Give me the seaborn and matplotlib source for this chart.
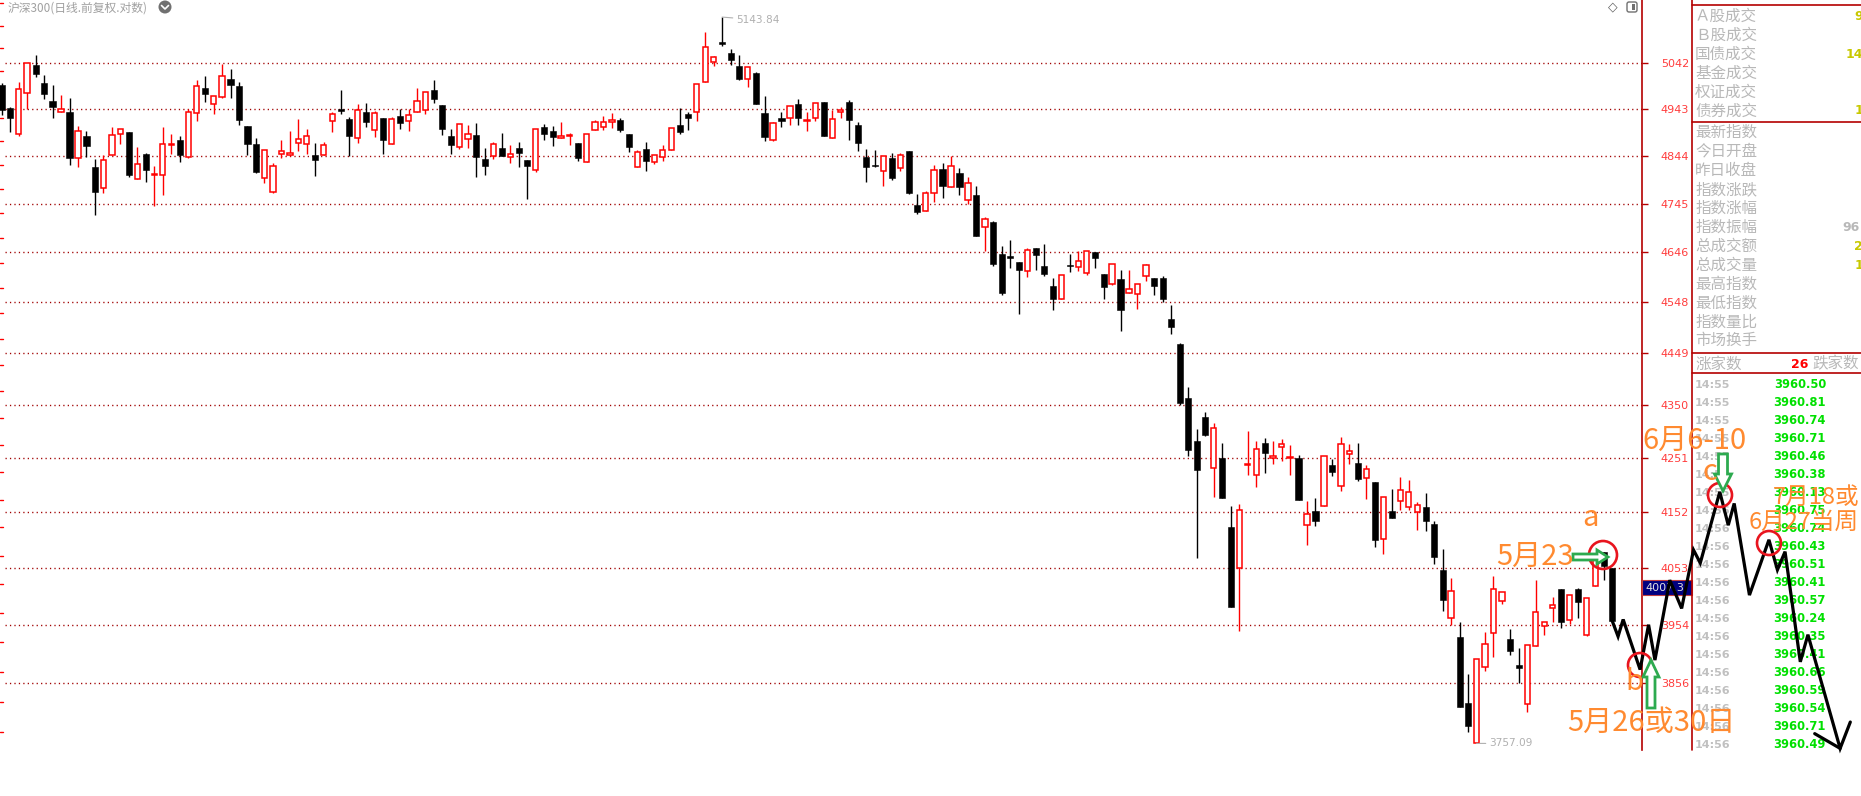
import numpy as np
import pandas as pd
import matplotlib
matplotlib.use("Agg")
import matplotlib.pyplot as plt
from matplotlib.patches import Circle, FancyArrow, Rectangle, FancyBboxPatch
from matplotlib.ticker import NullLocator
import seaborn as sns

# 沪深300 daily candles
opens = [4994, 4945, 4891, 4978, 5038, 5000, 4960, 4938, 4937, 4840,
         4887, 4820, 4777, 4845, 4891, 4894, 4796, 4849, 4804, 4804,
         4868, 4877, 4842, 4934, 4988, 4953, 4970, 5009, 4992, 4907,
         4869, 4798, 4770, 4848, 4846, 4872, 4870, 4847, 4845, 4917,
         4943, 4922, 4881, 4937, 4898, 4924, 4870, 4928, 4917, 4936,
         4942, 4985, 4952, 4886, 4862, 4879, 4888, 4837, 4843, 4860,
         4842, 4860, 4835, 4815, 4904, 4896, 4882, 4885, 4872, 4832,
         4898, 4906, 4915, 4920, 4890, 4821, 4858, 4832, 4841, 4857,
         4910, 4932, 4936, 5002, 5045, 5089, 5065, 5036, 5008, 5020,
         4935, 4878, 4924, 4924, 4954, 4917, 4924, 4958, 4881, 4937,
         4958, 4910, 4842, 4826, 4812, 4840, 4819, 4855, 4743, 4729,
         4766, 4817, 4779, 4808, 4753, 4762, 4697, 4707, 4642, 4638,
         4627, 4608, 4655, 4619, 4580, 4554, 4621, 4616, 4604, 4646,
         4603, 4583, 4593, 4566, 4564, 4599, 4595, 4595, 4515, 4465,
         4362, 4283, 4327, 4233, 4250, 4126, 4053, 4238, 4219, 4279,
         4251, 4271, 4251, 4250, 4129, 4155, 4163, 4237, 4200, 4259,
         4241, 4214, 4206, 4104, 4154, 4172, 4162, 4152, 4162, 4131,
         4050, 3967, 3934, 3824, 3758, 3883, 3941, 3996, 3930, 3886,
         3822, 3918, 3952, 3983, 4017, 3963, 4016, 3938, 4022, 4081,
         4053]
highs = [5000, 4948, 5002, 5042, 5060, 5017, 4996, 4973, 4968, 4908,
         4896, 4837, 4845, 4906, 4900, 4894, 4862, 4851, 4822, 4906,
         4891, 4887, 4944, 5005, 5015, 4972, 5041, 5030, 5002, 4907,
         4882, 4857, 4830, 4877, 4896, 4922, 4901, 4871, 4874, 4936,
         4985, 4927, 4954, 4956, 4939, 4924, 4927, 4944, 4944, 4989,
         4980, 5005, 4952, 4901, 4911, 4909, 4913, 4860, 4874, 4892,
         4867, 4873, 4835, 4900, 4911, 4908, 4915, 4893, 4872, 4891,
         4920, 4928, 4935, 4924, 4890, 4857, 4873, 4845, 4867, 4902,
         4945, 4937, 4997, 5111, 5058, 5143.84, 5074, 5060, 5034, 5023,
         4972, 4916, 4937, 4949, 4965, 4937, 4956, 4958, 4941, 4948,
         4962, 4915, 4859, 4857, 4844, 4850, 4850, 4855, 4764, 4772,
         4825, 4830, 4844, 4819, 4800, 4781, 4717, 4709, 4659, 4672,
         4627, 4655, 4655, 4662, 4595, 4601, 4642, 4648, 4649, 4646,
         4603, 4622, 4611, 4611, 4583, 4623, 4595, 4599, 4541, 4467,
         4383, 4304, 4336, 4315, 4279, 4164, 4167, 4301, 4282, 4288,
         4282, 4286, 4274, 4257, 4173, 4177, 4255, 4248, 4290, 4277,
         4279, 4237, 4206, 4180, 4195, 4216, 4211, 4171, 4187, 4137,
         4087, 4036, 3959, 3872, 3896, 3942, 4040, 4012, 3948, 3916,
         3921, 4033, 3960, 4003, 4017, 4006, 4018, 4001, 4071, 4081,
         4053]
lows = [4930, 4895, 4886, 4944, 5012, 4964, 4925, 4936, 4825, 4821,
        4842, 4721, 4766, 4845, 4870, 4800, 4796, 4789, 4740, 4763,
        4848, 4831, 4840, 4918, 4959, 4933, 4966, 4967, 4910, 4845,
        4808, 4787, 4766, 4840, 4843, 4854, 4848, 4802, 4845, 4895,
        4932, 4844, 4872, 4906, 4884, 4848, 4870, 4901, 4897, 4936,
        4933, 4956, 4889, 4848, 4859, 4860, 4800, 4805, 4838, 4844,
        4829, 4821, 4754, 4810, 4878, 4865, 4881, 4867, 4833, 4832,
        4898, 4899, 4903, 4895, 4853, 4821, 4812, 4827, 4833, 4857,
        4891, 4899, 4918, 5002, 5037, 5079, 5039, 5005, 4990, 4955,
        4875, 4875, 4904, 4909, 4909, 4896, 4917, 4885, 4881, 4925,
        4877, 4854, 4789, 4820, 4782, 4793, 4812, 4765, 4724, 4729,
        4748, 4757, 4779, 4763, 4744, 4680, 4649, 4618, 4561, 4615,
        4524, 4596, 4610, 4598, 4532, 4554, 4607, 4608, 4600, 4614,
        4553, 4581, 4491, 4566, 4534, 4588, 4561, 4548, 4484, 4350,
        4254, 4071, 4291, 4180, 4177, 3985, 3944, 4219, 4197, 4224,
        4239, 4245, 4219, 4175, 4093, 4127, 4163, 4217, 4191, 4240,
        4208, 4176, 4091, 4077, 4141, 4157, 4156, 4121, 4118, 4061,
        3979, 3954, 3816, 3775, 3757.09, 3876, 3900, 3991, 3903, 3856,
        3809, 3918, 3938, 3959, 3949, 3957, 3966, 3935, 4021, 4033,
        3962]
closes = [4942, 4925, 4987, 5042, 5018, 4976, 4948, 4943, 4840, 4896,
          4865, 4770, 4836, 4889, 4900, 4804, 4828, 4814, 4806, 4870,
          4870, 4846, 4936, 4993, 4976, 4972, 5015, 4995, 4920, 4869,
          4810, 4857, 4824, 4855, 4851, 4879, 4885, 4836, 4868, 4932,
          4939, 4886, 4942, 4916, 4934, 4878, 4923, 4914, 4930, 4961,
          4980, 4965, 4901, 4867, 4911, 4891, 4842, 4823, 4870, 4844,
          4849, 4850, 4823, 4900, 4891, 4884, 4885, 4888, 4840, 4891,
          4915, 4915, 4920, 4899, 4863, 4853, 4833, 4845, 4857, 4902,
          4895, 4925, 4997, 5078, 5055, 5084, 5050, 5007, 5033, 4955,
          4883, 4914, 4917, 4949, 4924, 4920, 4956, 4885, 4921, 4942,
          4919, 4871, 4821, 4824, 4844, 4799, 4846, 4767, 4728, 4766,
          4815, 4782, 4823, 4780, 4787, 4680, 4713, 4622, 4565, 4635,
          4610, 4651, 4641, 4602, 4553, 4601, 4619, 4628, 4649, 4635,
          4577, 4622, 4532, 4573, 4583, 4620, 4580, 4554, 4499, 4353,
          4266, 4228, 4294, 4306, 4177, 3985, 4156, 4239, 4267, 4260,
          4255, 4277, 4253, 4175, 4149, 4136, 4255, 4225, 4277, 4264,
          4212, 4231, 4102, 4180, 4141, 4192, 4188, 4166, 4136, 4072,
          3997, 4013, 3816, 3786, 3896, 3922, 4017, 4012, 3910, 3881,
          3921, 3977, 3960, 3989, 3959, 4006, 3994, 4001, 4071, 4056,
          3962]

price_ticks = [5042, 4943, 4844, 4745, 4646, 4548, 4449, 4350, 4251, 4152, 4053, 3954, 3856]
high_mark = 5143.84
low_mark = 3757.09
last_price = 4007.3

# hand-drawn forecast path after the last bar (bar position, price)
path_x = [190.0, 190.7, 191.3, 193.3, 194.3, 195.05, 196.8, 198.2, 199.6, 200.4, 202.7,
          203.7, 204.4, 206.2, 208.5, 209.5, 210.4, 212.2, 213.1, 216.9, 218.1]
path_y = [3962, 3935, 3964, 3879, 3955, 3895, 4032, 3983, 4085, 4062, 4189,
          4129, 4168, 4006, 4103, 4050, 4082, 3892, 3938, 3749, 3792]
head_x = [213.9, 216.9]
head_y = [3773, 3749]

# side panel
panel_top = ["Ａ股成交", "Ｂ股成交", "国债成交", "基金成交", "权证成交", "债券成交"]
panel_top_vals = ["9", "", "14", "", "", "1"]
panel_mid = ["最新指数", "今日开盘", "昨日收盘", "指数涨跌", "指数涨幅", "指数振幅",
             "总成交额", "总成交量", "最高指数", "最低指数", "指数量比", "市场换手"]
panel_mid_vals = ["", "", "", "", "", "96", "2", "1", "", "", "", ""]
up_count = 26
tick_times = ["14:55"] * 7 + ["14:56"] * 14
tick_prices = ["3960.50", "3960.81", "3960.74", "3960.71", "3960.46", "3960.38", "3960.13",
               "3960.75", "3960.74", "3960.43", "3960.51", "3960.41", "3960.57", "3960.24",
               "3960.35", "3960.41", "3960.66", "3960.59", "3960.54", "3960.71", "3960.49"]

sns.set_theme(style="white")
plt.rcParams["font.family"] = ["Noto Sans CJK SC", "DejaVu Sans"]

RED = "#ff0000"
AXRED = "#b40000"
GRID = "#a00000"
ORANGE = "#ff8a30"
GREY = "#b8b8b8"

df = pd.DataFrame({"open": opens, "high": highs, "low": lows, "close": closes})
df["pos"] = np.arange(len(df))
df["up"] = df["close"] >= df["open"]
df["top"] = df[["open", "close"]].max(axis=1)
df["bot"] = df[["open", "close"]].min(axis=1)
df["hgt"] = (df["top"] - df["bot"]).clip(lower=1.0)

W, H = 1861, 796
fig = plt.figure(figsize=(W / 100, H / 100), dpi=100, facecolor="white")
ax = fig.add_axes([0, (H - 750) / H, 1642 / W, 750 / H])
ax.set_yscale("log")
ax.set_xlim(-0.2, 1642 / 8.476 - 0.2)
ax.set_ylim(3746.4, 5182)
ax.set_facecolor("white")

# dotted price grid
ax.hlines(price_ticks, 0.003, 1, transform=ax.get_yaxis_transform(),
          colors=GRID, lw=1.0, linestyles=(0, (0.9, 2.3)), zorder=1)

# left edge small ticks
for p in np.arange(3775, 5176, 50):
    ax.plot([0, 0.002], [p, p], transform=ax.get_yaxis_transform(), color=RED, lw=1.0, clip_on=False)

# candles
up = df[df["up"]]
dn = df[~df["up"]]
ax.vlines(up["pos"], up["low"], up["high"], color=RED, lw=1.0, zorder=2)
ax.vlines(dn["pos"], dn["low"], dn["high"], color="black", lw=1.0, zorder=2)
ax.bar(up["pos"], up["hgt"], bottom=up["bot"], width=0.62, facecolor="white",
       edgecolor=RED, lw=1.1, zorder=3)
ax.bar(dn["pos"], dn["hgt"], bottom=dn["bot"], width=0.72, facecolor="black",
       edgecolor="black", lw=0.4, zorder=3)

# high / low labels
ax.annotate(f"{high_mark:.2f}", xy=(df["high"].idxmax(), high_mark), xytext=(10, -2),
            textcoords="offset points", ha="left", va="center", color="#b0b0b0",
            fontsize=7.6, family="DejaVu Sans",
            arrowprops=dict(arrowstyle="-", color="#b0b0b0", lw=0.8, shrinkA=0, shrinkB=0))
ax.annotate(f"{low_mark:.2f}", xy=(df["low"].idxmin(), low_mark), xytext=(9, 0),
            textcoords="offset points", ha="left", va="center", color="#b0b0b0",
            fontsize=7.6, family="DejaVu Sans",
            arrowprops=dict(arrowstyle="-", color="#b0b0b0", lw=0.8, shrinkA=0, shrinkB=0))

# right price axis
sns.despine(ax=ax, left=True, bottom=True, top=True, right=False)
ax.spines["right"].set_color(AXRED)
ax.spines["right"].set_linewidth(1.2)
ax.yaxis.tick_right()
ax.set_yticks(price_ticks)
ax.set_yticklabels([str(p) for p in price_ticks], family="DejaVu Sans")
ax.yaxis.set_minor_locator(NullLocator())
ax.tick_params(axis="y", which="major", direction="out", length=4.5, width=1.0,
               color=AXRED, labelcolor="#ff3c3c", labelsize=8, pad=9)
ax.set_xticks([])

# overlay in pixel space: header, side panel, hand-drawn marks
ov = fig.add_axes([0, 0, 1, 1], zorder=5)
ov.set_xlim(0, W)
ov.set_ylim(H, 0)
ov.axis("off")
ov.patch.set_alpha(0)

ov.text(8, 8, "沪深300(日线.前复权.对数)", fontsize=8.5, color="#a0a0a0", va="center", ha="left")
ov.add_patch(Circle((165, 7), 6.5, fc="#707070", ec="none"))
ov.plot([161.5, 165, 168.5], [5.5, 9, 5.5], color="white", lw=1.2)
ov.text(1613, 7, "◇", fontsize=9, color="#606060", ha="center", va="center", family="DejaVu Sans")
ov.add_patch(FancyBboxPatch((1627, 2), 10, 10, boxstyle="round,pad=0,rounding_size=2",
                            fc="white", ec="#707070", lw=1.0))
ov.add_patch(Rectangle((1632, 4), 3, 6, fc="#707070", ec="none"))

# panel frame
ov.plot([1692, 1692], [0, 750], color=AXRED, lw=1.2)
for yy in [5.3, 122.3, 353.3, 372.7]:
    ov.plot([1692, W], [yy, yy], color=AXRED, lw=1.2)

for k, (lab, val) in enumerate(zip(panel_top, panel_top_vals)):
    y = 16 + 19 * k
    ov.text(1695, y, lab, fontsize=11.2, color=GREY, va="center", ha="left")
    ov.text(1863, y, val, fontsize=9, color="#c8c800", va="center", ha="right",
            family="DejaVu Sans", weight="bold")
for k, (lab, val) in enumerate(zip(panel_mid, panel_mid_vals)):
    y = 132.5 + 18.94 * k
    ov.text(1695, y, lab, fontsize=11.2, color=GREY, va="center", ha="left")
    ov.text(1860 if val == "96" else 1863, y, val, fontsize=9,
            color=GREY if val == "96" else "#c8c800", va="center", ha="right",
            family="DejaVu Sans", weight="bold")

ov.text(1695, 364, "涨家数", fontsize=11.2, color=GREY, va="center", ha="left")
ov.text(1808, 364, str(up_count), fontsize=9, color="#ff0000", va="center", ha="right",
        family="DejaVu Sans", weight="bold")
ov.text(1812, 364, "跌家数", fontsize=11.2, color=GREY, va="center", ha="left")
for k, (t, p) in enumerate(zip(tick_times, tick_prices)):
    y = 384.7 + 18 * k
    ov.text(1695, y, t, fontsize=8, color="#c0c0c0", va="center", ha="left",
            family="DejaVu Sans", weight="bold")
    ov.text(1826, y, p, fontsize=8.3, color="#00e000", va="center", ha="right",
            family="DejaVu Sans", weight="bold")

# last price box
ov.add_patch(Rectangle((1642, 580), 50, 15, fc="#000080", ec="#c04040", lw=0.8))
ov.text(1645, 588, f"{last_price:.1f}", fontsize=8, color="#e0e0e0", va="center", ha="left",
        family="DejaVu Sans")

# hand-drawn projection path (data coords of the candle axes)
ov.plot(path_x, path_y, transform=ax.transData, color="black", lw=2.3, clip_on=False,
        solid_joinstyle="miter", zorder=6)
ov.plot(head_x, head_y, transform=ax.transData, color="black", lw=2.3, clip_on=False, zorder=6)

# circles
for (cx, cy, r) in [(1603, 555, 14), (1640, 665, 12), (1720, 495, 12), (1769, 543, 12)]:
    ov.add_patch(Circle((cx, cy), r, fill=False, ec="#e8141e", lw=1.9, zorder=7))

# green hollow arrows
GREEN = "#2daa4f"
ov.add_patch(FancyArrow(1573, 557, 35, 0, width=6, head_width=14, head_length=11,
                        length_includes_head=True, fc="white", ec=GREEN, lw=2.0, zorder=8))
ov.add_patch(FancyArrow(1651, 708, 0, -48, width=8, head_width=16, head_length=17,
                        length_includes_head=True, fc="white", ec=GREEN, lw=2.0, zorder=8))
ov.add_patch(FancyArrow(1723, 454, 0, 37, width=9, head_width=17, head_length=17,
                        length_includes_head=True, fc="white", ec=GREEN, lw=2.0, zorder=8))

# orange notes
notes = [("a", 1590, 518, 21, "center"), ("5月23", 1535, 557, 21, "center"),
         ("b", 1634, 682, 21, "center"), ("5月26或30日", 1651, 723, 21, "center"),
         ("6月6-10", 1694, 441, 21, "center"), ("c", 1710, 472, 21, "center"),
         ("7月18或", 1859, 497, 17, "right"), ("6月27当周", 1859, 522, 17, "right")]
for txt, x, y, fs, ha in notes:
    ov.text(x, y, txt, fontsize=fs, color=ORANGE, ha=ha, va="center", zorder=9)

fig.savefig("out.png", dpi=100, facecolor="white")
